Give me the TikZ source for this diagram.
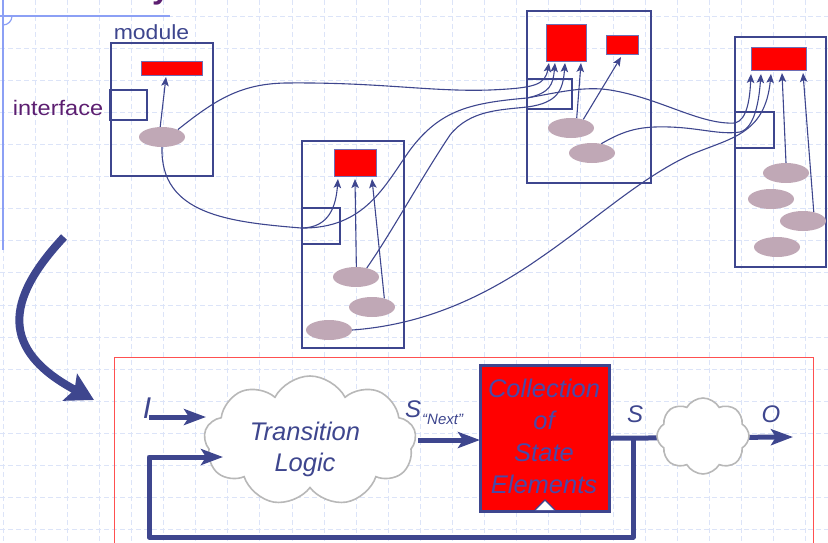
\documentclass[tikz,border=0pt]{standalone}
\usepackage{fontspec}
\setmainfont{Liberation Sans}
\usetikzlibrary{arrows.meta,shapes.symbols,shapes.geometric}
\definecolor{mblue}{RGB}{62,70,142}
\definecolor{tblue}{RGB}{72,74,168}
\definecolor{ellc}{RGB}{192,168,182}
\definecolor{gridc}{RGB}{220,228,248}
\definecolor{tline}{RGB}{140,160,245}
\definecolor{purp}{RGB}{92,30,112}
\definecolor{cgray}{RGB}{184,184,184}
\definecolor{framec}{RGB}{255,80,80}
\definecolor{redb}{RGB}{110,110,180}
\tikzset{
  modbox/.style={draw=mblue, line width=2pt, anchor=north west, inner sep=0pt},
  intfbox/.style={draw=mblue, line width=1.8pt, anchor=north west, inner sep=0pt},
  regbox/.style={fill=red, draw=redb, line width=0.8pt, anchor=north west, inner sep=0pt},
  blob/.style={ellipse, fill=ellc, minimum width=46pt, minimum height=20pt, inner sep=0pt},
  wire/.style={draw=mblue, line width=1.1pt},
  warrow/.style={wire, -{Stealth[length=9pt,width=7.5pt,inset=2pt]}},
  bigline/.style={draw=mblue, line width=5pt, line join=round},
  bigarrow/.style={bigline, -{Stealth[length=22pt,width=16pt,inset=5pt]}},
  lbl/.style={text=mblue, font=\fontsize{24}{28}\selectfont\itshape, inner sep=0pt, anchor=base},
  cltext/.style={text=mblue, font=\fontsize{25.5}{30}\selectfont\itshape, inner sep=0pt, anchor=base},
  coltext/.style={text=tblue, font=\fontsize{25.5}{30}\selectfont\itshape, inner sep=0pt, anchor=base},
  puff/.style={cloud, draw=cgray, fill=white, line width=1.6pt, inner sep=0pt},
  gridline/.style={draw=gridc, line width=0.7pt, dash pattern=on 5pt off 3pt},
}
\begin{document}
\begin{tikzpicture}[x=1pt,y=-1pt]
\useasboundingbox (0,0) rectangle (828,542);
\clip (0,0) rectangle (828,542);
% background grid
\foreach \i in {0,...,25} \draw[gridline] ({3+32.1*\i},0) -- ({3+32.1*\i},542);
\foreach \i in {0,...,16} \draw[gridline] (0,{16+32.1*\i}) -- (828,{16+32.1*\i});
\draw[tline, line width=1.2pt] (0,16) -- (170,16);
\draw[tline, line width=1.2pt] (3,0) -- (3,250);
\draw[tline, line width=1.2pt] (12,16) .. controls (12,21) and (8,25) .. (3,25);
\node[anchor=base, text=purp, inner sep=0pt, font=\fontsize{32}{36}\selectfont\bfseries] (ttl) at (161,-2) {y};

% labels
\node[anchor=base, text=mblue, inner sep=0pt, xscale=1.12, font=\fontsize{20.5}{24}\selectfont] (modlbl) at (151.5,39) {module};
\node[anchor=base, text=purp, inner sep=0pt, xscale=1.12, font=\fontsize{21}{24}\selectfont] (intlbl) at (58,115) {interface};

% modules
\node[modbox, minimum width=102pt, minimum height=133pt] (m1) at (110,42) {};
\node[modbox, minimum width=102pt, minimum height=207pt] (m2) at (301,140) {};
\node[modbox, minimum width=124pt, minimum height=172pt] (m3) at (526,10) {};
\node[modbox, minimum width=91pt, minimum height=230pt] (m4) at (734,36) {};

% interfaces
\node[intfbox, minimum width=37pt, minimum height=30pt] (i1) at (109,89) {};
\node[intfbox, minimum width=38pt, minimum height=36pt] (i2) at (301,207) {};
\node[intfbox, minimum width=45pt, minimum height=30pt] (i3) at (526,78) {};
\node[intfbox, minimum width=39pt, minimum height=36pt] (i4) at (734,111) {};

% state registers
\node[regbox, minimum width=61pt, minimum height=14pt] (r1) at (141,61) {};
\node[regbox, minimum width=42pt, minimum height=27pt] (r2) at (334,149) {};
\node[regbox, minimum width=40pt, minimum height=37pt] (r3a) at (546,24) {};
\node[regbox, minimum width=32pt, minimum height=19pt] (r3b) at (606,35) {};
\node[regbox, minimum width=55pt, minimum height=23pt] (r4) at (751,47) {};

% logic blobs
\node[blob] (e1) at (162,137) {};
\node[blob] (e21) at (356,277) {};
\node[blob] (e22) at (372,307) {};
\node[blob] (e23) at (329,330) {};
\node[blob] (e31) at (571,128) {};
\node[blob] (e32) at (592,153) {};
\node[blob] (e41) at (786,173) {};
\node[blob] (e42) at (771,199) {};
\node[blob] (e43) at (803,221) {};
\node[blob] (e44) at (777,247) {};

% arrow tips
\coordinate (t1) at (166,77);
\coordinate (t21) at (338,179);
\coordinate (t22) at (355,179);
\coordinate (t23) at (372,179);
\coordinate (t31) at (549,63);
\coordinate (t32) at (555,63);
\coordinate (t33) at (565,63);
\coordinate (t34) at (581,63);
\coordinate (t35) at (621,57);
\coordinate (t41) at (751,74);
\coordinate (t42) at (761,74);
\coordinate (t43) at (771,74);
\coordinate (t44) at (782,73);
\coordinate (t45) at (803,73);
\coordinate (j2) at (301,228);
\coordinate (j3) at (527,98);

% straight arrows inside modules
\draw[warrow] (e1.100) -- (t1);
\draw[warrow] (e21.88) -- (t22);
\draw[warrow] (e22.35) -- (t23);
\draw[warrow] (e31.60) -- (t34);
\draw[warrow] (e31.35) -- (t35);
\draw[warrow] (e41.north) -- (t44);
\draw[warrow] (e43.40) -- (t45);

% wires between modules
\draw[warrow] (e1.25) .. controls (215,100) and (240,84) .. (285,83)
  .. controls (380,82) and (430,92) .. (490,90)
  .. controls (535,88) and (545,85) .. (t31);
\draw[warrow] (e1.south) .. controls (160,215) and (230,222) .. (j2)
  .. controls (330,228) and (336,205) .. (t21);
\draw[warrow] (j2) .. controls (365,229) and (385,185) .. (410,150)
  .. controls (440,110) and (470,103) .. (j3)
  .. controls (550,93) and (553,85) .. (t32);
\draw[warrow] (e21.40) .. controls (390,235) and (420,180) .. (450,135)
  .. controls (470,110) and (500,110) .. (527,107)
  .. controls (558,103) and (563,90) .. (t33);
\draw[warrow] (j3) .. controls (560,92) and (585,86) .. (610,90)
  .. controls (660,98) and (700,125) .. (735,123)
  .. controls (748,120) and (750,95) .. (t41);
\draw[warrow] (e32.45) .. controls (625,130) and (640,126) .. (670,127)
  .. controls (700,128) and (720,135) .. (740,132)
  .. controls (755,128) and (759,100) .. (t42);
\draw[warrow] (e23.east) .. controls (420,325) and (480,300) .. (540,258)
  .. controls (590,224) and (640,178) .. (690,155)
  .. controls (730,138) and (765,135) .. (t43);

% big curved arrow
\coordinate (ca) at (64,237);
\coordinate (cb) at (94,400);
\draw[draw=mblue, line width=8pt, -{Stealth[length=27pt,width=30pt,inset=5pt]}] (ca) .. controls (5,300) and (0,350) .. (cb);

% FSM frame
\node[draw=framec, line width=1.2pt, anchor=north west, inner sep=0pt, minimum width=699pt, minimum height=220pt] (fr) at (114,357) {};

% FSM
\node[puff, cloud puffs=9, cloud puff arc=125, aspect=1.63, minimum width=212pt, minimum height=130pt] (cl1) at (310,441) {};
\node[cltext] (tr) at (305,440) {Transition};
\node[cltext] (lg) at (305,471) {Logic};

\node[draw=mblue, fill=red, line width=2.5pt, anchor=north west, inner sep=0pt, minimum width=129pt, minimum height=146pt] (coll) at (479,364) {};
\node[coltext] (c1) at (544,397) {Collection};
\node[coltext] (c2) at (544,429) {of};
\node[coltext] (c3) at (544,461) {State};
\node[coltext] (c4) at (544,493) {Elements};
\draw[fill=white, draw=mblue, line width=1.2pt] (535,510) -- (545,500) -- (555,510);

\coordinate (Iin) at (149,417);
\coordinate (Itip) at (206,417);
\coordinate (Sn) at (418,440);
\coordinate (Sntip) at (480,440);
\coordinate (Otip) at (793,437);
\coordinate (fb0) at (633,437);
\coordinate (fb1) at (633,537);
\coordinate (fb2) at (149,537);
\coordinate (fb3) at (149,457);
\coordinate (fbtip) at (223,457);

\draw[bigarrow] (Iin) -- (Itip);
\draw[bigarrow] (Sn) -- (Sntip);
\draw[bigarrow] (coll.east) -- (Otip);
\draw[bigarrow] (fb0) -- (fb1) -- (fb2) -- (fb3) -- (fbtip);

\node[puff, cloud puffs=8, cloud puff arc=120, aspect=1.2, minimum width=92pt, minimum height=76pt] (cl2) at (703,436) {};

\node[lbl, font=\fontsize{30}{34}\selectfont\itshape] (lI) at (147,418) {I};
\node[lbl, anchor=base west] (lSn) at (405,417) {S\kern1pt\raisebox{-7pt}{\fontsize{15}{18}\selectfont\itshape “Next”}};
\node[lbl] (lS) at (635,422) {S};
\node[lbl] (lO) at (771,422) {O};
\end{tikzpicture}
\end{document}
